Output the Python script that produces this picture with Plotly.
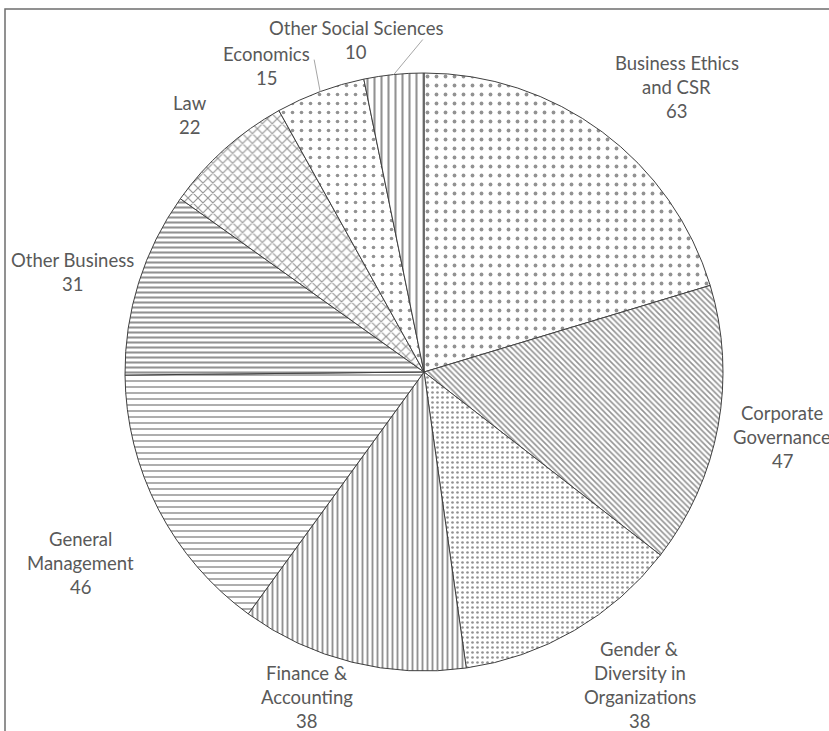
import math
import plotly.graph_objects as go

categories = ["Business Ethics and CSR", "Corporate Governance", "Gender & Diversity in Organizations",
              "Finance & Accounting", "General Management", "Other Business", "Law", "Economics",
              "Other Social Sciences"]
values = [63, 47, 38, 38, 46, 31, 22, 15, 10]
label_lines = [["Business Ethics", "and CSR"], ["Corporate", "Governance"],
               ["Gender &", "Diversity in", "Organizations"], ["Finance &", "Accounting"],
               ["General", "Management"], ["Other Business"], ["Law"], ["Economics"],
               ["Other Social Sciences"]]

W, H = 829, 731
CX, CY, R = 424, 372, 299

shapes_p = [".", "\\", ".", "|", "-", "-", "x", ".", "|"]
sizes_p = [9, 4, 5, 5, 6, 5, 7, 9, 7]
solid_p = [0.14, 0.4, 0.22, 0.38, 0.25, 0.42, 0.3, 0.13, 0.3]

# label placement (angle nudge in degrees, distance in px from pie centre)
nudge = [5.0, -0.15, -4.4, 5.9, -1.8, -1.5, -0.5, -7.0, -5.8]
dist = [381, 364, 380, 345, 393, 365, 348, 344, 339]
leader = [None, None, None, None, None, None, None, (-6, -32), (29, -35)]

fig = go.Figure(go.Pie(
    labels=categories, values=values, sort=False, direction="clockwise", rotation=0,
    textinfo="none", hoverinfo="label+value", showlegend=False,
    marker=dict(colors=["white"] * len(values),
                line=dict(color="#404040", width=1),
                pattern=dict(shape=shapes_p, size=sizes_p, solidity=solid_p,
                             fgcolor="#262626", bgcolor="white", fillmode="overlay")),
    domain=dict(x=[(CX - R) / W, (CX + R) / W], y=[(H - CY - R) / H, (H - CY + R) / H]),
))

def px2paper(x, y):
    return x / W, 1 - y / H

total = sum(values)
cum = 0
annotations = []
shapes = []
LS = 24
for i, v in enumerate(values):
    mid = (cum + v / 2) / total * 360
    cum += v
    a = math.radians(mid + nudge[i])
    bx = CX + dist[i] * math.sin(a)
    by = CY - dist[i] * math.cos(a)
    lines = label_lines[i] + [str(v)]
    n = len(lines)
    for k, t in enumerate(lines):
        ly = by + (k - (n - 1) / 2) * LS
        xp, yp = px2paper(bx, ly)
        annotations.append(dict(x=xp, y=yp, xref="paper", yref="paper", text=t, showarrow=False,
                                xanchor="center", yanchor="middle",
                                font=dict(family="Lato", size=18.5, color="#595959")))
    if leader[i]:
        am = math.radians(mid)
        x0 = CX + R * math.sin(am)
        y0 = CY - R * math.cos(am)
        x1, y1 = x0 + leader[i][0], y0 + leader[i][1]
        p0 = px2paper(x0, y0)
        p1 = px2paper(x1, y1)
        shapes.append(dict(type="line", xref="paper", yref="paper", x0=p0[0], y0=p0[1],
                           x1=p1[0], y1=p1[1], line=dict(color="#a6a6a6", width=1)))

# chart frame
f0 = px2paper(5, 9)
f1 = px2paper(840, 745)
shapes.append(dict(type="rect", xref="paper", yref="paper", x0=f0[0], y0=f1[1], x1=f1[0], y1=f0[1],
                   line=dict(color="#6e6e6e", width=1.5), fillcolor="rgba(0,0,0,0)"))

fig.update_layout(width=W, height=H, margin=dict(l=0, r=0, t=0, b=0),
                  paper_bgcolor="white", plot_bgcolor="white",
                  annotations=annotations, shapes=shapes)

fig.write_html("out.html")
